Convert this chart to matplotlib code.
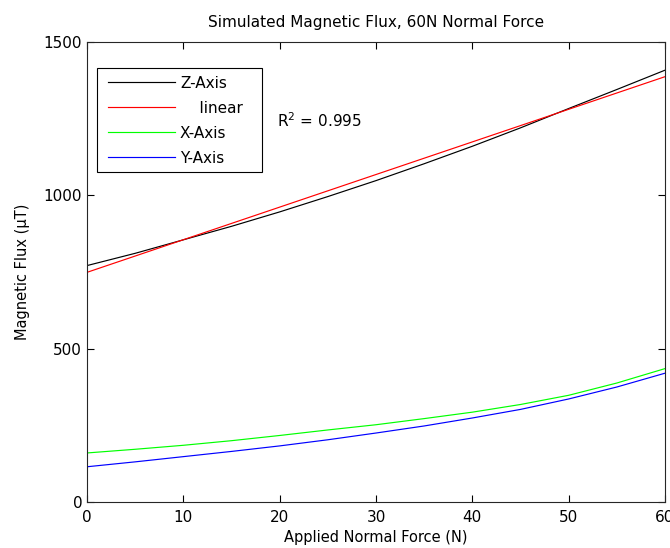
import matplotlib
matplotlib.use("Agg")
import matplotlib.pyplot as plt
from matplotlib.patches import Rectangle

plt.rcParams['font.family'] = ['DejaVu Sans']

force = [0, 5, 10, 15, 20, 25, 30, 35, 40, 45, 50, 55, 60]
z_axis = [771, 811, 855, 899, 946, 996, 1048, 1103, 1160, 1220, 1283, 1345, 1408]
x_axis = [160, 172, 185, 200, 217, 235, 252, 272, 293, 318, 348, 388, 435]
y_axis = [115, 131, 148, 165, 183, 203, 225, 248, 274, 302, 336, 375, 420]
linear_intercept = 749
linear_slope = 10.63
r2_text = "R$^2$ = 0.995"

lin = [linear_intercept + linear_slope * f for f in force]

fig = plt.figure(figsize=(6.7, 5.48), dpi=100)
ax = fig.add_axes([0.13, 0.0839, 0.8625, 0.8395])

lw = 0.85
ax.plot(force, z_axis, color='black', lw=lw, label='Z-Axis')
ax.plot(force, lin, color='#ff0000', lw=lw, label='    linear')
ax.plot(force, x_axis, color='#00ff00', lw=lw, label='X-Axis')
ax.plot(force, y_axis, color='#0000ff', lw=lw, label='Y-Axis')

ax.set_xlim(0, 60)
ax.set_ylim(0, 1500)
ax.set_xticks([0, 10, 20, 30, 40, 50, 60])
ax.set_yticks([0, 500, 1000, 1500])
ax.tick_params(direction='in', top=True, right=True, length=5, width=0.8,
               labelsize=11, colors='black')
ax.tick_params(axis='x', pad=6)
ax.tick_params(axis='y', pad=3.5)
for s in ax.spines.values():
    s.set_linewidth(0.8)
    s.set_color('#262626')

ax.set_title('Simulated Magnetic Flux, 60N Normal Force', fontsize=11, pad=11)
ax.set_xlabel('Applied Normal Force (N)', fontsize=10.5, labelpad=3)
ax.set_ylabel('Magnetic Flux (\u03bcT)', fontsize=10.5, labelpad=10)

ax.text(19.7, 1245, r2_text, fontsize=11, va='center', ha='left')

# legend frame drawn as a rectangle (MATLAB-style wide box)
frame = Rectangle((0.0173, 0.7174), 0.3028 - 0.0173, 0.9435 - 0.7174,
                  transform=ax.transAxes, facecolor='white', edgecolor='black',
                  linewidth=0.8, zorder=4)
ax.add_patch(frame)

leg = ax.legend(loc='upper left', bbox_to_anchor=(0.0363, 0.927), borderaxespad=0,
                frameon=False, fontsize=11,
                handlelength=4.4, handletextpad=0.3, labelspacing=0.66,
                borderpad=0)
leg.set_zorder(5)

fig.savefig('out.png', dpi=100)
